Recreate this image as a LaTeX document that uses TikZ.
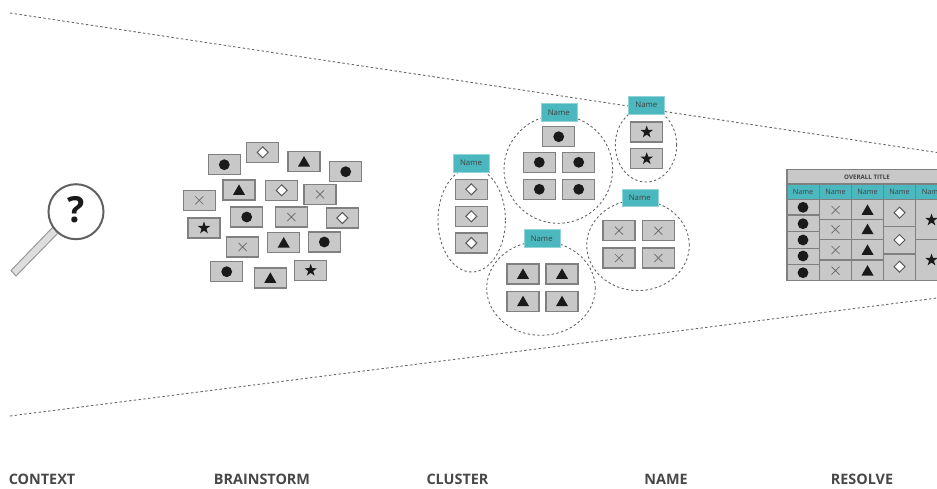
\documentclass[tikz,border=0pt]{standalone}
\usepackage{fontspec}
\setmainfont{Open Sans}
\usetikzlibrary{shapes.geometric,calc}
\definecolor{cardfill}{HTML}{C8C8C8}
\definecolor{cardline}{HTML}{808080}
\definecolor{teal1}{HTML}{4BB8BF}
\definecolor{ink}{HTML}{1A1A1A}
\definecolor{dashc}{HTML}{666666}
\tikzset{
  x=1pt,y=-1pt,
  card/.style={draw=cardline,line width=1.3pt,fill=cardfill,minimum width=32pt,minimum height=20pt,inner sep=0pt,outer sep=0pt},
  nametag/.style={fill=teal1,draw=teal1!60!white,line width=.4pt,minimum width=36pt,minimum height=17.5pt,inner sep=0pt,font=\fontsize{7.8}{8}\selectfont,text=black!75},
  funnel/.style={draw=dashc,line width=.9pt,dash pattern=on 2.4pt off 2.4pt},
  ring/.style={draw=dashc,line width=.9pt,dash pattern=on 2.4pt off 2.4pt,fill=none},
  steplabel/.style={font=\fontsize{14.4}{16}\selectfont\bfseries,text=black!72,anchor=base},
}
\newcommand{\symC}[2]{\fill[ink] (#1,#2) circle (5.4pt);}
\newcommand{\symT}[2]{\fill[ink] ($(#1,#2)+(-6,4.8)$) -- ($(#1,#2)+(6,4.8)$) -- ($(#1,#2)+(0,-5.6)$) -- cycle;}
\newcommand{\symS}[2]{\node[star,star points=5,star point ratio=2.5,fill=ink,inner sep=0pt,minimum size=13pt] at (#1,#2) {};}
\newcommand{\symD}[2]{\draw[fill=white,draw=black!65,line width=1pt] ($(#1,#2)+(-5.5,0)$) -- ($(#1,#2)+(0,-5.5)$) -- ($(#1,#2)+(5.5,0)$) -- ($(#1,#2)+(0,5.5)$) -- cycle;}
\newcommand{\symX}[2]{\draw[black!60,line width=.7pt] ($(#1,#2)+(-4,-4)$) -- ($(#1,#2)+(4,4)$) ($(#1,#2)+(-4,4)$) -- ($(#1,#2)+(4,-4)$);}
\newcommand{\crd}[3]{\node[card] at (#1,#2) {}; \csname sym#3\endcsname{#1}{#2}}
\begin{document}
\begin{tikzpicture}
\useasboundingbox (0,0) rectangle (937,488);
% funnel
\coordinate (ft1) at (10,13); \coordinate (ft2) at (937,152.5);
\coordinate (fb1) at (10,416); \coordinate (fb2) at (937,298);
\draw[funnel] (ft1) -- (ft2);
\draw[funnel] (fb1) -- (fb2);
% magnifier
\draw[draw=black!40,fill=black!13,line width=1pt] (11,270.5) -- (16,276) -- (58,233) -- (53,227) -- cycle;
\draw[draw=black!62,fill=white,line width=2pt] (76,211.7) circle (27.5pt);
\node[font=\fontsize{36}{38}\selectfont\bfseries,text=ink] (q) at (76,210) {?};
% brainstorm
\crd{262.7}{152.3}{D}\crd{224.3}{164.7}{C}\crd{304}{161.7}{T}\crd{345.7}{171.7}{C}
\crd{239}{190}{T}\crd{281.7}{190.3}{D}\crd{320}{194.3}{X}\crd{199.3}{200.3}{X}
\crd{246.7}{217}{C}\crd{291.3}{217}{X}\crd{342.3}{218}{D}\crd{204}{228}{S}
\crd{242.7}{247}{X}\crd{283.7}{242.7}{T}\crd{324.3}{242}{C}
\crd{226.7}{271.7}{C}\crd{270.3}{278}{T}\crd{310.7}{270.3}{S}
% cluster rings
\draw[ring] (558.3,169.3) ellipse (54.3pt and 54pt);
\draw[ring] (646,145) ellipse (30.7pt and 37pt);
\draw[ring] (471.7,220) ellipse (33.7pt and 52pt);
\draw[ring] (638,245.3) ellipse (51.3pt and 45.3pt);
\draw[ring] (541,288.3) ellipse (54.3pt and 47pt);
% cluster cards
\crd{558.7}{136.7}{C}\crd{539.3}{162.3}{C}\crd{578.7}{162.3}{C}\crd{539.3}{189.3}{C}\crd{578.7}{189.3}{C}
\crd{646.7}{132}{S}\crd{646.7}{158.7}{S}
\crd{471.3}{189.3}{D}\crd{471.3}{216.3}{D}\crd{471.3}{243}{D}
\crd{619}{230.7}{X}\crd{658.3}{230.7}{X}\crd{619}{258}{X}\crd{658.3}{258}{X}
\crd{523}{274}{T}\crd{562}{274}{T}\crd{523}{301.3}{T}\crd{562}{301.3}{T}
\node[nametag] (n1) at (558.7,112.3) {Name};
\node[nametag] (n2) at (646.3,105) {Name};
\node[nametag] (n3) at (471,163) {Name};
\node[nametag] (n4) at (639.7,197.7) {Name};
\node[nametag] (n5) at (541.7,238.3) {Name};
% table
\begin{scope}
\clip (780,160) rectangle (937,290);
\fill[cardfill] (787,169.3) rectangle (960,280.7);
\fill[teal1] (787,184) rectangle (960,199.3);
\draw[cardline,line width=1.2pt] (787,280.7) -- (787,169.3) -- (960,169.3);
\draw[cardline,line width=1.2pt] (787,184) -- (960,184) (787,199.3) -- (960,199.3) (787,280.7) -- (960,280.7);
\foreach \x in {819.3,851.7,883.3,915.7} {\draw[cardline,line width=1.2pt] (\x,184) -- (\x,280.7);}
\foreach \y in {215,231.7,248.7,264.7} {\draw[cardline,line width=1.2pt] (787,\y) -- (819.3,\y);}
\foreach \y in {219.3,239.3,260} {\draw[cardline,line width=1.2pt] (819.3,\y) -- (883.3,\y);}
\foreach \y in {226.7,254} {\draw[cardline,line width=1.2pt] (883.3,\y) -- (915.7,\y);}
\draw[cardline,line width=1.2pt] (915.7,239.3) -- (960,239.3);
\foreach \x in {803,835.5,867.5,899.5,932} {\node[font=\fontsize{7.3}{8}\selectfont,text=black!75] at (\x,191.6) {Name};}
\node[font=\fontsize{6.2}{7}\selectfont\bfseries,text=black!75] (tt) at (867,177) {OVERALL TITLE};
\foreach \y in {207.3,223.7,240,256,272.7} {\symC{803}{\y}}
\foreach \y in {210,229.3,250,270.7} {\symX{835.5}{\y}\symT{867.5}{\y}}
\foreach \y in {212.7,240,266.7} {\symD{899.5}{\y}}
\foreach \y in {220,260} {\symS{931.5}{\y}}
\end{scope}
% labels
\node[steplabel] (l1) at (42,484.5) {CONTEXT};
\node[steplabel] (l2) at (262,484.5) {BRAINSTORM};
\node[steplabel] (l3) at (457.5,484.5) {CLUSTER};
\node[steplabel] (l4) at (666,484.5) {NAME};
\node[steplabel] (l5) at (862,484.5) {RESOLVE};
\end{tikzpicture}
\end{document}
